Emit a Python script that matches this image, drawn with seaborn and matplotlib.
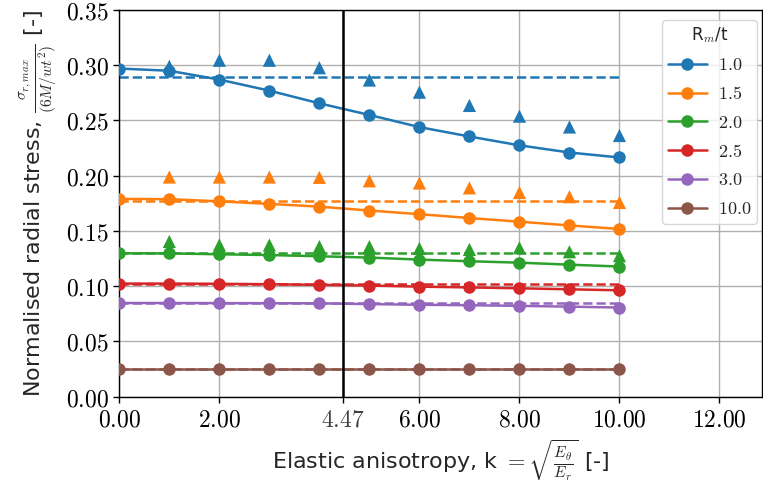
import numpy as np
import pandas as pd
import matplotlib
matplotlib.use("Agg")
import matplotlib.pyplot as plt
import seaborn as sns

# ---------------- data ----------------
k_values = [0, 1, 2, 3, 4, 5, 6, 7, 8, 9, 10]
rm_labels = ["1.0", "1.5", "2.0", "2.5", "3.0", "10.0"]

fe_1_0 = [0.297, 0.295, 0.287, 0.277, 0.2655, 0.255, 0.244, 0.2355, 0.2275, 0.221, 0.2165]
fe_1_5 = [0.179, 0.1788, 0.1768, 0.1745, 0.172, 0.1685, 0.1652, 0.1617, 0.1584, 0.155, 0.1518]
fe_2_0 = [0.1298, 0.1297, 0.1289, 0.1282, 0.1271, 0.1259, 0.1241, 0.1226, 0.1213, 0.1195, 0.1178]
fe_2_5 = [0.1024, 0.1024, 0.1022, 0.1018, 0.1012, 0.1006, 0.0996, 0.0989, 0.0981, 0.0972, 0.0963]
fe_3_0 = [0.0848, 0.0848, 0.0847, 0.0846, 0.0845, 0.0838, 0.0832, 0.0828, 0.0822, 0.0815, 0.0807]
fe_10_0 = [0.025, 0.025, 0.025, 0.025, 0.025, 0.025, 0.025, 0.025, 0.025, 0.025, 0.025]

tri_k = [1, 2, 3, 4, 5, 6, 7, 8, 9, 10]
tri_1_0 = [0.299, 0.3045, 0.3045, 0.2977, 0.2866, 0.2756, 0.2636, 0.2539, 0.2441, 0.2364]
tri_1_5 = [0.1988, 0.1988, 0.1988, 0.1985, 0.1954, 0.1934, 0.189, 0.1848, 0.181, 0.1758]
tri_2_0 = [0.1405, 0.1373, 0.1373, 0.1359, 0.1359, 0.1342, 0.1333, 0.1348, 0.1312, 0.1276]

ref_values = [0.2895, 0.1775, 0.1297, 0.1018, 0.0845, 0.025]

x_ticks = [0, 2, 4.47, 6, 8, 10, 12]
y_ticks = [0.00, 0.05, 0.10, 0.15, 0.20, 0.25, 0.30, 0.35]
k_marker = 4.47

# ---------------- frames ----------------
fe_series = [fe_1_0, fe_1_5, fe_2_0, fe_2_5, fe_3_0, fe_10_0]
fe_df = pd.DataFrame(
    [(k, lab, v) for lab, ser in zip(rm_labels, fe_series) for k, v in zip(k_values, ser)],
    columns=["k", "Rm", "stress"],
)
tri_df = pd.DataFrame(
    [(k, lab, v) for lab, ser in zip(rm_labels[:3], [tri_1_0, tri_1_5, tri_2_0])
     for k, v in zip(tri_k, ser)],
    columns=["k", "Rm", "stress"],
)
ref_df = pd.DataFrame(
    [(k, lab, v) for lab, v in zip(rm_labels, ref_values) for k in (k_values[0], k_values[-1])],
    columns=["k", "Rm", "stress"],
)

# ---------------- style ----------------
sns.set_style("ticks", {"axes.grid": True, "grid.color": "#b0b0b0",
                        "axes.edgecolor": "black", "xtick.color": "black",
                        "ytick.color": "black"})
plt.rcParams["font.family"] = ["DejaVu Sans"]
plt.rcParams["mathtext.fontset"] = "cm"

palette = dict(zip(rm_labels, sns.color_palette("tab10", 6)))

fig = plt.figure(figsize=(7.63, 4.92), dpi=100)
ax = fig.add_axes([0.1564, 0.1937, 0.9987 - 0.1564, 0.9797 - 0.1937])

sns.lineplot(data=ref_df, x="k", y="stress", hue="Rm", palette=palette,
             linestyle="--", linewidth=1.8, legend=False, ax=ax)
sns.scatterplot(data=tri_df, x="k", y="stress", hue="Rm", palette=palette,
                marker="^", s=90, linewidth=0, legend=False, ax=ax, zorder=3)
sns.lineplot(data=fe_df, x="k", y="stress", hue="Rm", palette=palette,
             marker="o", markersize=9, markeredgewidth=0, linewidth=1.8,
             ax=ax, zorder=4)

ax.axvline(k_marker, color="black", linewidth=1.8, zorder=5)

ax.set_xlim(0, 12.85)
ax.set_ylim(0, 0.35)
ax.set_xticks(x_ticks)
ax.set_xticklabels([f"${v:.2f}$" for v in x_ticks], fontsize=17)
for t, v in zip(ax.get_xticklabels(), x_ticks):
    if v == k_marker:
        t.set_color("0.25")
ax.set_yticks(y_ticks)
ax.set_yticklabels([f"${v:.2f}$" for v in y_ticks], fontsize=17)
ax.tick_params(direction="out", length=4, width=1)
for s in ax.spines.values():
    s.set_linewidth(1.0)
    s.set_color("black")
ax.grid(True, color="#b0b0b0", linewidth=1.0)

ax.set_xlabel(r"Elastic anisotropy, k $= \sqrt{\frac{E_\theta}{E_r}}$ [-]", fontsize=16)
ax.set_ylabel(r"Normalised radial stress, $\frac{\sigma_{r,max}}{(6M/wt^2)}$ [-]", fontsize=16,
              labelpad=6)

leg = ax.legend(title=r"R$_m$/t", loc="upper right",
                bbox_to_anchor=(757 / 763, 1 - 20 / 492),
                bbox_transform=fig.transFigure, borderaxespad=0,
                fontsize=13, title_fontsize=12, handlelength=2.2,
                handletextpad=0.6, labelspacing=0.6, borderpad=0.3,
                frameon=True, fancybox=True, framealpha=0.8, edgecolor="0.8")
for t in leg.get_texts():
    t.set_text(f"${t.get_text()}$")

fig.savefig("out.png", dpi=100)
